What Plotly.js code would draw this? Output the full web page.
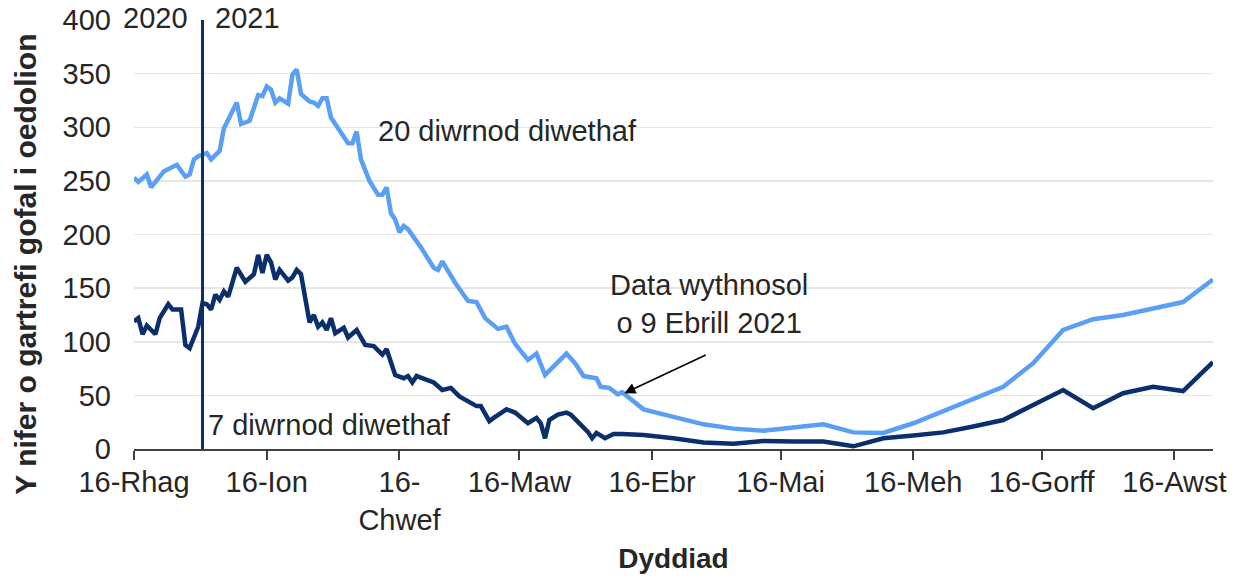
<!DOCTYPE html>
<html>
<head>
<meta charset="utf-8">
<script src="https://cdn.plot.ly/plotly-3.0.1.min.js"></script>
<style>
  html, body { margin: 0; padding: 0; background: #fff; }
  #chart { width: 1236px; height: 580px; }
</style>
</head>
<body>
<div id="chart"></div>
<script>
// daily values (20 day and 7 day counts) up to 9 April 2021
var lightDates = ['2020-12-16','2020-12-17','2020-12-19','2020-12-20','2020-12-23','2020-12-24','2020-12-26',
  '2020-12-28','2020-12-29','2020-12-30','2020-12-31','2021-01-02','2021-01-03','2021-01-05','2021-01-06',
  '2021-01-07','2021-01-09','2021-01-10','2021-01-12','2021-01-14','2021-01-15','2021-01-16','2021-01-17',
  '2021-01-18','2021-01-19','2021-01-21','2021-01-22','2021-01-23','2021-01-24','2021-01-26','2021-01-27',
  '2021-01-28','2021-01-29','2021-01-30','2021-01-31','2021-02-01','2021-02-04','2021-02-05','2021-02-06',
  '2021-02-07','2021-02-09','2021-02-11','2021-02-12','2021-02-13','2021-02-14','2021-02-15','2021-02-16',
  '2021-02-17','2021-02-18','2021-02-21','2021-02-24','2021-02-25','2021-02-26','2021-03-01','2021-03-02',
  '2021-03-04','2021-03-06','2021-03-08','2021-03-11','2021-03-13','2021-03-15','2021-03-18','2021-03-20',
  '2021-03-22','2021-03-24','2021-03-27','2021-03-29','2021-03-31','2021-04-03','2021-04-04','2021-04-06',
  '2021-04-08','2021-04-09'];
var lightDaily = [253,249,256,244,259,261,265,
  254,256,270,273,276,270,278,299,
  307,323,303,306,330,329,338,335,
  323,327,322,349,354,331,324,323,
  320,327,327,309,303,285,285,296,
  270,250,237,237,244,220,214,202,
  208,205,188,169,167,175,155,149,
  138,137,122,112,114,98,83,89,
  69,77,89,80,68,66,58,57,
  51,53];

var darkDates = ['2020-12-16','2020-12-17','2020-12-18','2020-12-19','2020-12-21','2020-12-22','2020-12-24',
  '2020-12-25','2020-12-27','2020-12-28','2020-12-29','2020-12-31','2021-01-01','2021-01-02','2021-01-03',
  '2021-01-04','2021-01-05','2021-01-06','2021-01-07','2021-01-09','2021-01-11','2021-01-13','2021-01-14',
  '2021-01-15','2021-01-16','2021-01-17','2021-01-18','2021-01-19','2021-01-21','2021-01-22','2021-01-23',
  '2021-01-24','2021-01-26','2021-01-27','2021-01-28','2021-01-29','2021-01-30','2021-01-31','2021-02-01',
  '2021-02-03','2021-02-04','2021-02-06','2021-02-08','2021-02-10','2021-02-12','2021-02-13','2021-02-15',
  '2021-02-17','2021-02-18','2021-02-19','2021-02-20','2021-02-22','2021-02-24','2021-02-26','2021-02-28',
  '2021-03-02','2021-03-04','2021-03-06','2021-03-07','2021-03-09','2021-03-10','2021-03-13','2021-03-15',
  '2021-03-18','2021-03-20','2021-03-21','2021-03-22','2021-03-23','2021-03-25','2021-03-27','2021-03-28',
  '2021-03-30','2021-04-01','2021-04-02','2021-04-03','2021-04-05','2021-04-07','2021-04-09'];
var darkDaily = [119,122,107,115,107,122,135,
  130,130,97,94,114,136,135,130,
  144,139,147,142,169,156,163,181,
  164,181,174,158,167,157,160,167,
  163,118,125,114,118,111,122,108,
  113,104,111,97,96,88,93,69,
  66,68,62,68,65,62,55,57,
  49,44,40,40,26,29,37,34,
  24,29,24,10,27,32,34,32,
  24,16,10,15,10,14,14];

// weekly values from April 2021
var weeklyDates = ['2021-04-14','2021-04-21','2021-04-28','2021-05-05','2021-05-12','2021-05-19','2021-05-26',
  '2021-06-02','2021-06-09','2021-06-16','2021-06-23','2021-06-30','2021-07-07','2021-07-14',
  '2021-07-21','2021-07-28','2021-08-04','2021-08-11','2021-08-18','2021-08-25'];
var lightWeekly = [37,30,23,19,17,20,23,15.5,15,24,35,46,58,80,111,121,125,131,137,158];
var darkWeekly = [13,10,6,5,7.5,7,7,2.5,10,12.5,15.5,21,27,41,55,38,52,58,54,81];

var tickDates = ['2020-12-16','2021-01-16','2021-02-16','2021-03-16','2021-04-16',
  '2021-05-16','2021-06-16','2021-07-16','2021-08-16'];
var tickLabels = ['16-Rhag','16-Ion','16-<br>Chwef','16-Maw','16-Ebr','16-Mai','16-Meh','16-Gorff','16-Awst'];

var yearSplit = '2021-01-01';

var font = 'Liberation Sans, Arial, sans-serif';
var textCol = '#262626';

var traces = [
  { x: lightDates.concat(weeklyDates), y: lightDaily.concat(lightWeekly),
    name: '20 diwrnod diwethaf', type: 'scatter', mode: 'lines',
    line: {color: '#5a9ff5', width: 4.5} },
  { x: darkDates.concat(weeklyDates), y: darkDaily.concat(darkWeekly),
    name: '7 diwrnod diwethaf', type: 'scatter', mode: 'lines',
    line: {color: '#0b2f6c', width: 4.5} }
];

var layout = {
  width: 1236, height: 580,
  margin: {l: 134, r: 23, t: 20, b: 131},
  paper_bgcolor: '#fff', plot_bgcolor: '#fff',
  showlegend: false,
  font: {family: font, size: 29, color: textCol},
  xaxis: {
    type: 'date', range: ['2020-12-16', '2021-08-25'],
    tickmode: 'array', tickvals: tickDates, ticktext: tickLabels,
    showgrid: false, zeroline: false,
    showline: true, linecolor: '#404040', linewidth: 2,
    ticks: 'outside', ticklen: 9, tickwidth: 2, tickcolor: '#404040',
    ticklabelstandoff: -3,
    tickfont: {family: font, size: 29, color: textCol},
    title: {text: 'Dyddiad', font: {family: font, size: 28, color: textCol, weight: 'bold'}, standoff: 14}
  },
  yaxis: {
    range: [0, 400], tickvals: [0,50,100,150,200,250,300,350,400],
    showgrid: true, gridcolor: '#e6e6e6', gridwidth: 1.5,
    zeroline: false, showline: false, ticks: '',
    ticklabelstandoff: 22,
    tickfont: {family: font, size: 29, color: textCol}
  },
  shapes: [
    { type: 'line', xref: 'x', yref: 'y', x0: yearSplit, x1: yearSplit, y0: 0, y1: 400,
      line: {color: '#0b2f6c', width: 3} }
  ],
  annotations: [
    { xref: 'paper', yref: 'paper', x: -0.1009, y: 0.43, text: 'Y nifer o gartrefi gofal i oedolion',
      showarrow: false, textangle: -90, xanchor: 'center', yanchor: 'middle',
      font: {family: font, size: 30, color: textCol, weight: 'bold'} },
    { xref: 'paper', yref: 'paper', x: 0.0201, y: 1.0035, text: '2020', showarrow: false,
      xanchor: 'center', yanchor: 'middle', font: {family: font, size: 29, color: textCol} },
    { xref: 'paper', yref: 'paper', x: 0.1054, y: 1.0035, text: '2021', showarrow: false,
      xanchor: 'center', yanchor: 'middle', font: {family: font, size: 29, color: textCol} },
    { xref: 'paper', yref: 'paper', x: 0.224, y: 0.7423, text: '20 diwrnod diwethaf', showarrow: false,
      xanchor: 'left', yanchor: 'middle', font: {family: font, size: 29, color: textCol} },
    { xref: 'paper', yref: 'paper', x: 0.067, y: 0.0567, text: '7 diwrnod diwethaf', showarrow: false,
      xanchor: 'left', yanchor: 'middle', font: {family: font, size: 29, color: textCol} },
    { xref: 'paper', yref: 'paper', x: 0.5327, y: 0.3389, text: 'Data wythnosol<br>o 9 Ebrill 2021', showarrow: false,
      xanchor: 'center', yanchor: 'middle', align: 'center', font: {family: font, size: 29, color: textCol} },
    { xref: 'x', yref: 'y', x: '2021-04-09 12:00', y: 52, text: '', showarrow: true,
      axref: 'pixel', ayref: 'pixel', ax: 83, ay: -39,
      arrowhead: 2, arrowsize: 1.4, arrowwidth: 1.6, arrowcolor: '#000', standoff: 0 }
  ]
};

Plotly.newPlot('chart', traces, layout, {displayModeBar: false, staticPlot: true});
</script>
</body>
</html>
